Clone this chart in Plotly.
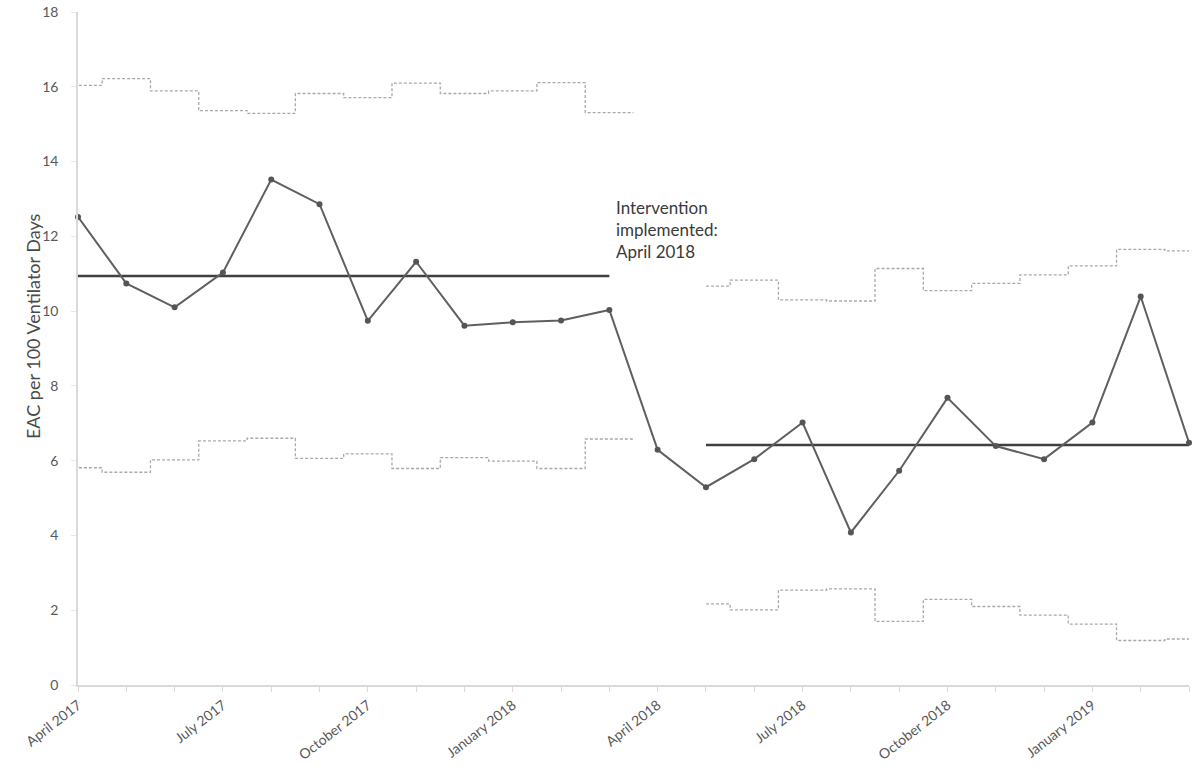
import plotly.graph_objects as go

# Monthly EAC rate per 100 ventilator days, April 2017 - March 2019
months = ["April 2017", "May 2017", "June 2017", "July 2017", "August 2017", "September 2017",
          "October 2017", "November 2017", "December 2017", "January 2018", "February 2018", "March 2018",
          "April 2018", "May 2018", "June 2018", "July 2018", "August 2018", "September 2018",
          "October 2018", "November 2018", "December 2018", "January 2019", "February 2019", "March 2019"]
eac_rate = [12.52, 10.74, 10.10, 11.03, 13.52, 12.86, 9.74, 11.32, 9.61, 9.70, 9.75, 10.03,
            6.29, 5.29, 6.04, 7.02, 4.08, 5.73, 7.68, 6.39, 6.04, 7.02, 10.39, 6.48]

# Baseline phase (April 2017 - March 2018): centre line and control limits
pre_idx = list(range(0, 12))
pre_center = 10.94
pre_ucl = [16.04, 16.22, 15.89, 15.36, 15.29, 15.82, 15.71, 16.10, 15.82, 15.89, 16.11, 15.31]
pre_lcl = [5.81, 5.69, 6.02, 6.53, 6.60, 6.06, 6.18, 5.79, 6.08, 5.99, 5.79, 6.58]

# Post-intervention phase (May 2018 - March 2019)
post_idx = list(range(13, 24))
post_center = 6.42
post_ucl = [10.67, 10.83, 10.30, 10.27, 11.14, 10.55, 10.74, 10.97, 11.21, 11.65, 11.61]
post_lcl = [2.17, 2.01, 2.54, 2.57, 1.70, 2.29, 2.10, 1.87, 1.63, 1.19, 1.23]

tick_idx = [0, 3, 6, 9, 12, 15, 18, 21]
y_ticks = [0, 2, 4, 6, 8, 10, 12, 14, 16, 18]

FONT = "Lato"
x = list(range(len(months)))


def step_xy(idx, values, x_start, x_end):
    """Step outline where each month's limit spans half a month either side."""
    xs = [x_start] + [i + 0.5 for i in idx[:-1]] + [x_end]
    ys = list(values) + [values[-1]]
    return xs, ys


fig = go.Figure()

limit_style = dict(color="#a9a9a9", width=1.3, dash="3px,2px", shape="hv")
for idx, vals, xs0, xs1 in [(pre_idx, pre_ucl, -0.5, 11.5), (pre_idx, pre_lcl, -0.5, 11.5),
                            (post_idx, post_ucl, 13, 23.5), (post_idx, post_lcl, 13, 23.5)]:
    sx, sy = step_xy(idx, vals, xs0, xs1)
    fig.add_trace(go.Scatter(x=sx, y=sy, mode="lines", line=limit_style,
                             hoverinfo="skip", showlegend=False))

# Phase centre lines
fig.add_trace(go.Scatter(x=[pre_idx[0], pre_idx[-1]], y=[pre_center, pre_center], mode="lines",
                         line=dict(color="#3f3f3f", width=2.5), showlegend=False))
fig.add_trace(go.Scatter(x=[post_idx[0], post_idx[-1]], y=[post_center, post_center], mode="lines",
                         line=dict(color="#3f3f3f", width=2.5), showlegend=False))

# Monthly rate
fig.add_trace(go.Scatter(x=x, y=eac_rate, mode="lines+markers", cliponaxis=False,
                         line=dict(color="#5f5f5f", width=2),
                         marker=dict(color="#555555", size=6), showlegend=False,
                         text=months, hovertemplate="%{text}: %{y:.2f}<extra></extra>"))

fig.add_annotation(x=11.1, y=13.1, xref="x", yref="y", xanchor="left", yanchor="top",
                   text="Intervention<br>implemented:<br>April 2018", showarrow=False, align="left",
                   font=dict(family=FONT, size=17, color="#3a3a3a"))

# Rotated y-axis title
fig.add_annotation(x=0, y=9.6, xref="paper", yref="y", xanchor="center", yanchor="middle",
                   xshift=-45, textangle=-90,
                   text="EAC per 100 Ventilator Days", showarrow=False,
                   font=dict(family=FONT, size=18, color="#4a4a4a"))

fig.update_layout(
    width=1198, height=769,
    margin=dict(l=78, r=9, t=12, b=84),
    paper_bgcolor="white", plot_bgcolor="white",
    font=dict(family=FONT, size=13, color="#595959"),
    xaxis=dict(range=[0, 23], tickmode="array", tickvals=tick_idx, automargin=False,
               ticktext=[months[i] for i in tick_idx], tickangle=-38,
               showgrid=False, zeroline=False, showline=True, linecolor="#d9d9d9", linewidth=1.5,
               ticks="outside", ticklen=5, tickcolor="#d9d9d9", tickfont=dict(size=14)),
    yaxis=dict(range=[0, 18], tickmode="array", tickvals=y_ticks, automargin=False,
               showgrid=False, zeroline=False, showline=True, linecolor="#d9d9d9", linewidth=1.5,
               ticks="outside", ticklen=5, tickcolor="#e6e6e6", ticklabelstandoff=10,
               tickfont=dict(size=14)),
)

# Minor month ticks on the x axis
fig.update_xaxes(minor=dict(tickvals=x, ticks="outside", ticklen=5, tickcolor="#d9d9d9"))

fig.write_html("out.html")
